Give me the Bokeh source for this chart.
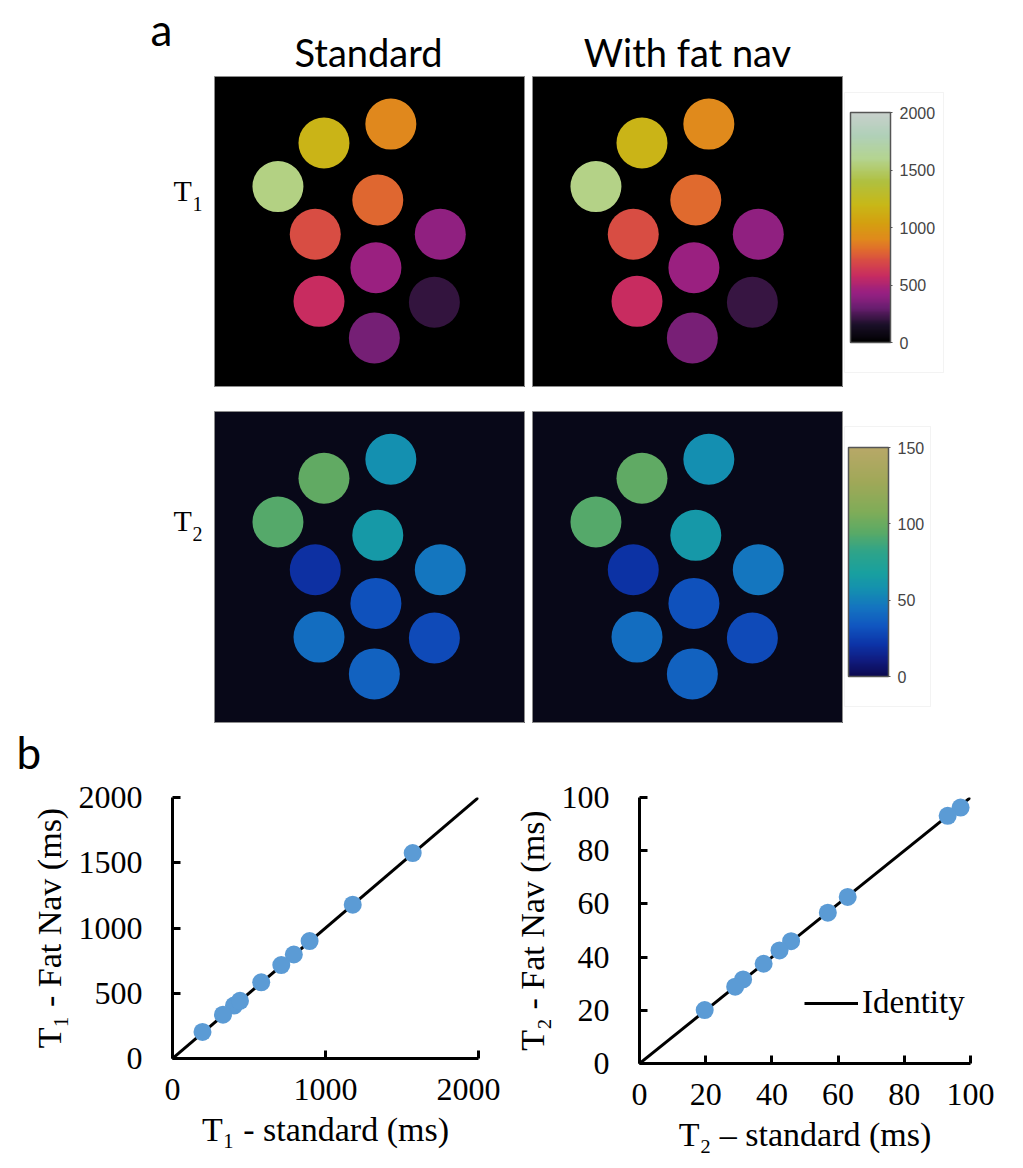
import numpy as np
from bokeh.plotting import figure
from bokeh.layouts import column, row
from bokeh.models import (ColumnDataSource, LinearColorMapper, ColorBar, FixedTicker,
                          Label, Range1d, Spacer, BoxAnnotation)
from bokeh.embed import file_html
from bokeh.resources import INLINE

# ---------------- data ----------------
column_titles = ["Standard", "With fat nav"]
panel_letters = ["a", "b"]
row_label_t1 = ("T", "1")
row_label_t2 = ("T", "2")

# vial centres in the phantom image (image units 0..100, y downwards)
vial_x = [56.7, 35.2, 20.4, 52.5, 32.4, 72.6, 51.9, 33.6, 70.7, 51.4]
vial_y = [15.3, 21.4, 35.4, 39.7, 50.7, 50.7, 61.5, 72.3, 72.6, 84.1]

# per-vial relaxation times (ms)
t1_standard = [896, 1178, 1570, 793, 711, 402, 441, 580, 196, 330]
t1_fatnav = [900, 1179, 1574, 797, 716, 406, 442, 584, 204, 336]
t2_standard = [56.9, 97.0, 93.1, 62.9, 19.7, 45.8, 31.3, 42.3, 28.9, 37.5]
t2_fatnav = [56.7, 96.2, 93.1, 62.6, 20.1, 46.0, 31.6, 42.5, 28.9, 37.5]

t1_cbar_ticks = [0, 500, 1000, 1500, 2000]
t2_cbar_ticks = [0, 50, 100, 150]
t1_limits = [0, 2000]
t2_limits = [0, 100]
t1_x_ticks = [0, 1000, 2000]
t1_y_ticks = [0, 500, 1000, 1500, 2000]
t2_ticks = [0, 20, 40, 60, 80, 100]

t1_xlabel = "T\u2081 - standard (ms)"
t1_ylabel = "T\u2081 - Fat Nav (ms)"
t2_xlabel = "T\u2082 \u2013 standard (ms)"
t2_ylabel = "T\u2082 - Fat Nav (ms)"
legend_text = "Identity"

# ---------------- colour maps ----------------
LIPARI_ANCHORS = [(0.0, "#000000"), (0.075, "#1a1028"), (0.15, "#6a1e70"), (0.20, "#902080"),
                  (0.22, "#9a2080"), (0.29, "#c82c60"), (0.355, "#d84c44"), (0.40, "#e06a2e"),
                  (0.45, "#e08a1c"), (0.52, "#d4a010"), (0.60, "#c8b818"), (0.70, "#b0c040"),
                  (0.80, "#b4d490"), (0.90, "#b0d0b8"), (1.0, "#c8d0cc")]
NAVIA_ANCHORS = [(0.0, "#0c0a50"), (0.07, "#101c80"), (0.14, "#0c34a8"), (0.22, "#1056c0"),
                 (0.30, "#1474c0"), (0.38, "#1490b0"), (0.45, "#18a0a0"), (0.55, "#30a488"),
                 (0.63, "#5aaa66"), (0.72, "#80ac58"), (0.85, "#a0a858"), (1.0, "#b8a868")]


def make_palette(anchors, n=256):
    pos = np.array([a[0] for a in anchors])
    cols = np.array([[int(c[i:i + 2], 16) for i in (1, 3, 5)] for _, c in anchors], dtype=float)
    t = np.linspace(0, 1, n)
    ch = [np.interp(t, pos, cols[:, k]) for k in range(3)]
    return ["#%02x%02x%02x" % (int(round(r)), int(round(g)), int(round(b))) for r, g, b in zip(*ch)]


t1_mapper = LinearColorMapper(palette=make_palette(LIPARI_ANCHORS), low=t1_cbar_ticks[0], high=t1_cbar_ticks[-1])
t2_mapper = LinearColorMapper(palette=make_palette(NAVIA_ANCHORS), low=t2_cbar_ticks[0], high=t2_cbar_ticks[-1])


def blank(w, h, xr=None, yr=None):
    kw = {}
    if xr is not None:
        kw["x_range"] = Range1d(*xr)
        kw["y_range"] = Range1d(*yr)
    p = figure(width=w, height=h, x_axis_location=None, y_axis_location=None,
               toolbar_location=None, output_backend="svg", min_border=0,
               outline_line_color=None, **kw)
    p.grid.visible = False
    return p


def panel(vals, mapper, bg, h):
    src = ColumnDataSource(dict(x=vial_x, y=vial_y, v=vals))
    p = figure(width=311, height=h, x_range=Range1d(0, 100), y_range=Range1d(100, 0),
               x_axis_location=None, y_axis_location=None, toolbar_location=None,
               output_backend="svg", min_border=0, background_fill_color=bg,
               border_fill_color=bg, outline_line_color="#8c8c8c", outline_line_width=1)
    p.grid.visible = False
    p.circle(x="x", y="y", radius=8.2, source=src,
             fill_color={"field": "v", "transform": mapper}, line_color=None)
    return p


def cbar_fig(mapper, ticks, h, box, bar_loc, bar_h):
    # figure in pixel-like units so the faint frame box can be placed
    p = blank(172, h, (0, 172), (0, h))
    l, r, t, b = box
    p.add_layout(BoxAnnotation(left=l, right=r, top=t, bottom=b, fill_alpha=0,
                               line_color="#d6d6d6", line_width=1))
    cb = ColorBar(color_mapper=mapper, ticker=FixedTicker(ticks=ticks), location=bar_loc,
                  width=40, height=bar_h, padding=0, orientation="vertical",
                  bar_line_color="#555555", bar_line_width=1.5,
                  major_tick_line_color="#555555", major_tick_in=0, major_tick_out=2,
                  minor_tick_line_color=None, label_standoff=7,
                  major_label_text_font="Liberation Sans", major_label_text_font_size="16px",
                  major_label_text_color="#444444", background_fill_alpha=0,
                  border_line_color=None)
    p.add_layout(cb, "center")
    return p


def row_label(parts, h, yb, ys):
    p = blank(214, h)
    p.add_layout(Label(x=173, y=yb, x_units="screen", y_units="screen", text=parts[0],
                       text_font="Liberation Serif", text_font_size="30px", text_color="black"))
    p.add_layout(Label(x=192, y=ys, x_units="screen", y_units="screen", text=parts[1],
                       text_font="Liberation Serif", text_font_size="20px", text_color="black"))
    return p


# ---------------- header ----------------
header = blank(1015, 76)
header.add_layout(Label(x=150, y=22, x_units="screen", y_units="screen", text=panel_letters[0],
                        text_font="Lato", text_font_size="44px", text_color="black"))
header.add_layout(Label(x=368, y=2, x_units="screen", y_units="screen", text=column_titles[0],
                        text_align="center", text_font="Lato",
                        text_font_size="38px", text_color="black"))
header.add_layout(Label(x=687, y=2, x_units="screen", y_units="screen", text=column_titles[1],
                        text_align="center", text_font="Lato",
                        text_font_size="38px", text_color="black"))

# ---------------- map rows ----------------
row_t1 = row(row_label(row_label_t1, 311, 181, 177),
             panel(t1_standard, t1_mapper, "#000000", 311), Spacer(width=7, height=311),
             panel(t1_fatnav, t1_mapper, "#000000", 311),
             cbar_fig(t1_mapper, t1_cbar_ticks, 311, (1, 100, 295, 15), (7, 45), 230))
row_t2 = row(row_label(row_label_t2, 312, 187, 183),
             panel(t2_standard, t2_mapper, "#080818", 312), Spacer(width=7, height=312),
             panel(t2_fatnav, t2_mapper, "#080818", 312),
             cbar_fig(t2_mapper, t2_cbar_ticks, 312, (1, 87, 297, 17), (5, 47), 229))

# ---------------- "b" header ----------------
bhead = blank(1015, 54)
bhead.add_layout(Label(x=16, y=0, x_units="screen", y_units="screen", text=panel_letters[1],
                       text_font="Lato", text_font_size="44px", text_color="black"))


# ---------------- scatter plots ----------------
def style_axes(p, xticks, yticks, xlabel, ylabel):
    p.xaxis.ticker = FixedTicker(ticks=xticks)
    p.yaxis.ticker = FixedTicker(ticks=yticks)
    p.xaxis.axis_label = xlabel
    p.yaxis.axis_label = ylabel
    for ax in p.axis:
        ax.axis_line_width = 3
        ax.axis_line_color = "black"
        ax.major_tick_line_width = 3
        ax.major_tick_line_color = "black"
        ax.major_tick_in = 8
        ax.major_tick_out = 0
        ax.minor_tick_line_color = None
        ax.major_label_text_font = "Liberation Serif"
        ax.major_label_text_font_size = "32px"
        ax.major_label_text_color = "black"
        ax.axis_label_text_font = "Liberation Serif"
        ax.axis_label_text_font_size = "34px"
        ax.axis_label_text_font_style = "normal"
        ax.axis_label_text_color = "black"
    p.xaxis.major_label_standoff = 20
    p.yaxis.major_label_standoff = 30
    p.xaxis.axis_label_standoff = 8
    p.yaxis.axis_label_standoff = 8
    p.grid.visible = False


s1 = figure(frame_width=306, frame_height=261, min_border_left=172, min_border_right=22,
            min_border_top=20, min_border_bottom=100, x_range=Range1d(*t1_limits),
            y_range=Range1d(*t1_limits), toolbar_location=None, output_backend="svg",
            outline_line_color=None)
style_axes(s1, t1_x_ticks, t1_y_ticks, t1_xlabel, t1_ylabel)
s1.line(t1_limits, t1_limits, line_color="black", line_width=3)
s1.scatter(t1_standard, t1_fatnav, size=18, fill_color="#5b9bd5", line_color=None)

s2 = figure(frame_width=331, frame_height=266, min_border_left=139, min_border_right=45,
            min_border_top=20, min_border_bottom=95, x_range=Range1d(*t2_limits),
            y_range=Range1d(*t2_limits), toolbar_location=None, output_backend="svg",
            outline_line_color=None)
style_axes(s2, t2_ticks, t2_ticks, t2_xlabel, t2_ylabel)
s2.line(t2_limits, t2_limits, line_color="black", line_width=3, legend_label=legend_text)
s2.scatter(t2_standard, t2_fatnav, size=18, fill_color="#5b9bd5", line_color=None)
lg = s2.legend[0]
lg.location = (165, 42)
lg.padding = 0
lg.margin = 0
lg.spacing = 0
lg.glyph_width = 54
lg.glyph_height = 30
lg.label_standoff = 4
lg.label_text_font = "Liberation Serif"
lg.label_text_font_size = "33px"
lg.label_text_color = "black"
lg.border_line_color = None
lg.background_fill_alpha = 0

layout = column(header, row_t1, Spacer(width=1015, height=24), row_t2, bhead, row(s1, s2))

open("out.html", "w").write(file_html(layout, INLINE))
